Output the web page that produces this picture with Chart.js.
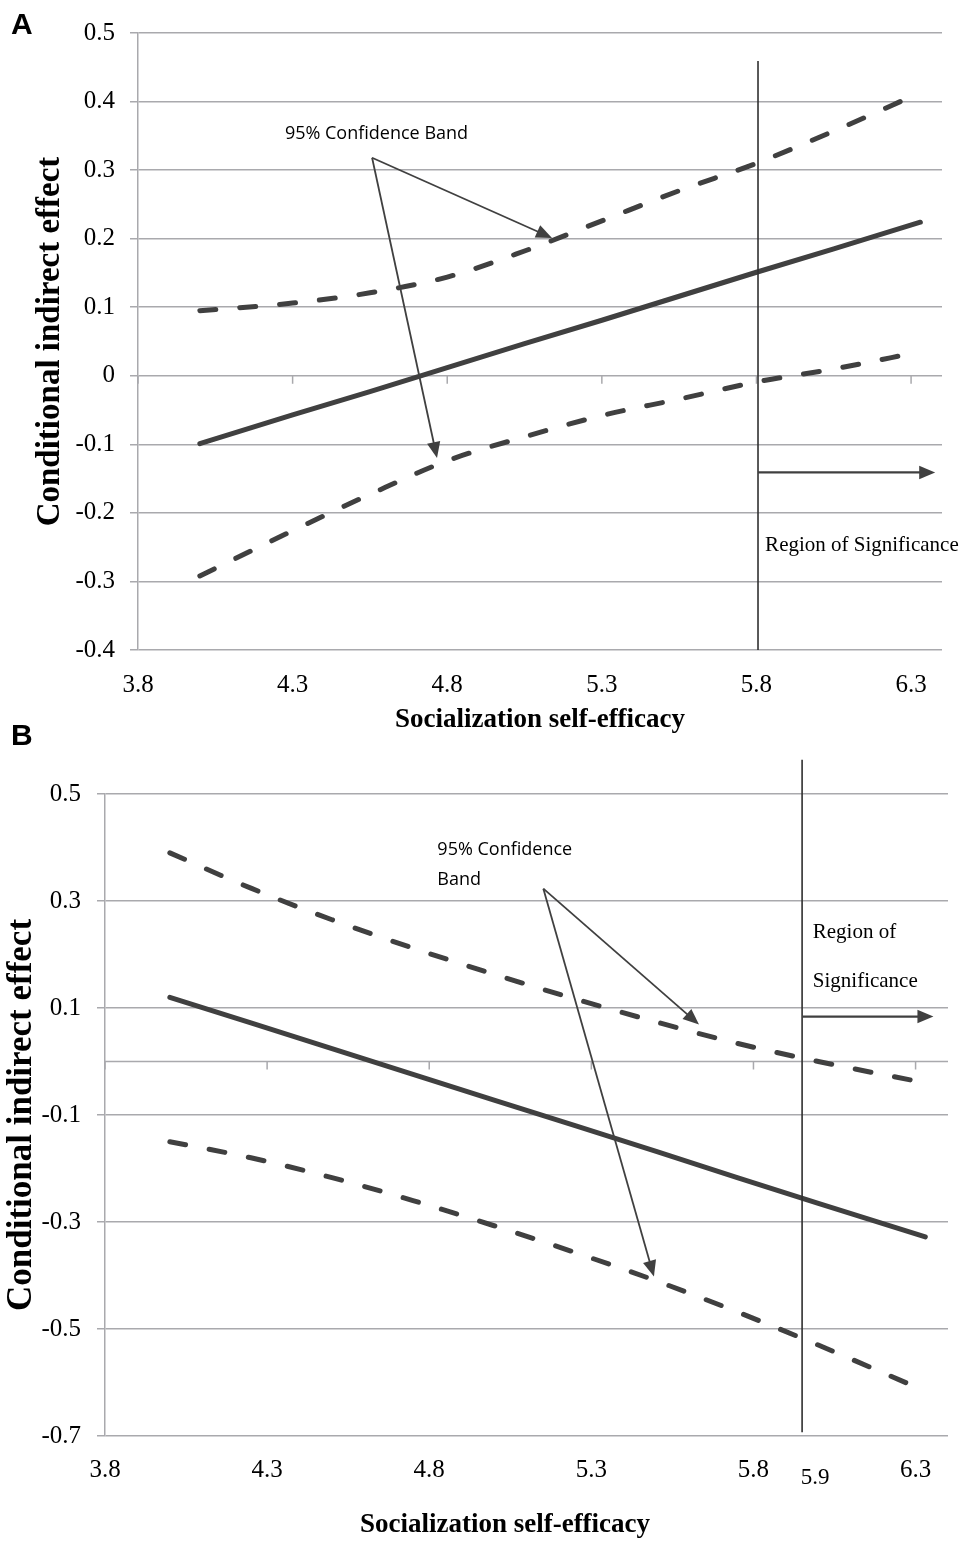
<!DOCTYPE html>
<html lang="en">
<head>
<meta charset="UTF-8">
<title>Conditional indirect effect</title>
<script src="https://cdn.jsdelivr.net/npm/chart.js"></script>
<style>
  body { margin: 0; background: #fff; }
  #wrap { position: relative; width: 963px; height: 1541px; overflow: hidden; }
  canvas { position: absolute; left: 0; }
  #chartA { top: 0; }
  #chartB { top: 740px; }
  .tag { position: absolute; left: 11px; font: bold 30px "Liberation Sans", Arial, sans-serif; line-height: 30px; color: #000; }
</style>
</head>
<body>
<div id="wrap">
  <canvas id="chartA" width="963" height="740"></canvas>
  <canvas id="chartB" width="963" height="801"></canvas>
  <div class="tag" style="top:9px">A</div>
  <div class="tag" style="top:720px">B</div>
</div>
<script>
// Panel A data
const xA = [4.0, 4.3, 4.55, 4.8, 5.05, 5.3, 5.55, 5.8, 6.05, 6.33];
const effectA = [-0.099, -0.057, -0.023, 0.012, 0.047, 0.081, 0.116, 0.151, 0.185, 0.224];
const upperA = [0.095, 0.106, 0.121, 0.144, 0.182, 0.226, 0.270, 0.310, 0.357, 0.413];
const lowerA = [-0.292, -0.226, -0.173, -0.124, -0.089, -0.058, -0.034, -0.009, 0.010, 0.035];
const xTicksA = [3.8, 4.3, 4.8, 5.3, 5.8, 6.3];
const yTicksA = [-0.4, -0.3, -0.2, -0.1, 0, 0.1, 0.2, 0.3, 0.4, 0.5];

// Panel B data
const xB = [4.0, 4.25, 4.5, 4.75, 5.0, 5.25, 5.5, 5.75, 6.0, 6.33];
const effectB = [0.120, 0.072, 0.024, -0.024, -0.072, -0.120, -0.168, -0.217, -0.265, -0.328];
const upperB = [0.390, 0.324, 0.265, 0.212, 0.163, 0.117, 0.074, 0.034, 0.000, -0.040];
const lowerB = [-0.150, -0.180, -0.217, -0.260, -0.307, -0.357, -0.410, -0.468, -0.530, -0.616];
const xTicksB = [3.8, 4.3, 4.8, 5.3, 5.8, 6.3];
const yTicksB = [-0.7, -0.5, -0.3, -0.1, 0.1, 0.3, 0.5];

const serif = '"Liberation Serif", "Times New Roman", serif';
const sans = '"Open Sans", "Noto Sans", sans-serif';
const ink = '#404040';
const gridGray = '#a9a9ad';

const fmt = v => String(Math.round(v * 10) / 10);
const pts = (xs, ys) => xs.map((x, i) => ({ x: x, y: ys[i] }));

function series(xs, ys, dashed) {
  return {
    data: pts(xs, ys),
    borderColor: ink,
    borderWidth: 5,
    borderDash: dashed ? [16, 24] : [],
    borderCapStyle: 'round',
    pointRadius: 0,
    tension: dashed ? 0.4 : 0,
    cubicInterpolationMode: dashed ? 'monotone' : 'default',
    fill: false
  };
}

function arrow(ctx, x1, y1, x2, y2, head) {
  const ang = Math.atan2(y2 - y1, x2 - x1);
  ctx.beginPath();
  ctx.moveTo(x1, y1);
  ctx.lineTo(x2 - Math.cos(ang) * head * 0.8, y2 - Math.sin(ang) * head * 0.8);
  ctx.stroke();
  ctx.beginPath();
  ctx.moveTo(x2, y2);
  ctx.lineTo(x2 - head * Math.cos(ang) + head * 0.42 * Math.sin(ang), y2 - head * Math.sin(ang) - head * 0.42 * Math.cos(ang));
  ctx.lineTo(x2 - head * Math.cos(ang) - head * 0.42 * Math.sin(ang), y2 - head * Math.sin(ang) + head * 0.42 * Math.cos(ang));
  ctx.closePath();
  ctx.fill();
}

// draws zero axis, its tick marks and the annotations
function makeOverlay(cfg) {
  return {
    id: 'overlay',
    beforeDatasetsDraw(chart) {
      const { ctx, chartArea: a, scales: { x, y } } = chart;
      const y0 = y.getPixelForValue(0);
      ctx.save();
      ctx.strokeStyle = gridGray;
      ctx.lineWidth = 1.5;
      if (cfg.zeroLine) {
        ctx.beginPath(); ctx.moveTo(a.left, y0); ctx.lineTo(a.right, y0); ctx.stroke();
      }
      cfg.xTicks.forEach(v => {
        const px = x.getPixelForValue(v);
        ctx.beginPath(); ctx.moveTo(px, y0); ctx.lineTo(px, y0 + 8); ctx.stroke();
      });
      ctx.restore();
    },
    afterDatasetsDraw(chart) {
      const { ctx, scales: { x, y } } = chart;
      const X = v => x.getPixelForValue(v);
      const Y = v => y.getPixelForValue(v);
      ctx.save();
      // cut-off line
      ctx.strokeStyle = '#303030';
      ctx.lineWidth = 1.6;
      ctx.beginPath();
      ctx.moveTo(X(cfg.cut), Y(cfg.cutTop));
      ctx.lineTo(X(cfg.cut), Y(cfg.cutBottom));
      ctx.stroke();
      // arrows
      ctx.strokeStyle = ink;
      ctx.fillStyle = ink;
      ctx.lineWidth = 1.8;
      cfg.arrows.forEach(r => arrow(ctx, X(r[0]), Y(r[1]), X(r[2]), Y(r[3]), 16));
      ctx.lineWidth = 2.2;
      arrow(ctx, X(cfg.region[0]), Y(cfg.region[2]), X(cfg.region[1]), Y(cfg.region[2]), 16);
      // texts
      ctx.fillStyle = '#000';
      ctx.textBaseline = 'middle';
      cfg.texts.forEach(t => {
        ctx.font = t.font;
        ctx.textAlign = t.align || 'left';
        const px = t.px !== undefined ? t.px : X(t.x);
        const py = t.py !== undefined ? t.py : Y(t.y);
        ctx.fillText(t.text, px, py);
      });
      ctx.restore();
    }
  };
}

function makeChart(id, p) {
  return new Chart(document.getElementById(id), {
    type: 'line',
    data: {
      datasets: [
        series(p.xs, p.upper, true),
        series(p.xs, p.effect, false),
        series(p.xs, p.lower, true)
      ]
    },
    plugins: [makeOverlay(p.overlay)],
    options: {
      responsive: false,
      animation: false,
      layout: { padding: p.padding },
      plugins: { legend: { display: false }, tooltip: { enabled: false } },
      scales: {
        x: {
          type: 'linear',
          min: 3.8,
          max: 6.4,
          afterBuildTicks: s => { s.ticks = p.xTicks.map(v => ({ value: v })); },
          afterFit: s => { s.height = p.xHeight; },
          grid: { display: false, drawTicks: false },
          border: { display: false },
          ticks: {
            font: { family: serif, size: 25 },
            color: '#000',
            padding: p.xPad,
            maxRotation: 0,
            autoSkip: false,
            callback: v => fmt(v)
          },
          title: p.xTitle ? {
            display: true,
            text: 'Socialization self-efficacy',
            color: '#000',
            font: { family: serif, size: 27, weight: 'bold' },
            padding: { top: 0, bottom: p.xTitlePad }
          } : { display: false }
        },
        y: {
          type: 'linear',
          min: p.yMin,
          max: 0.5,
          afterBuildTicks: s => { s.ticks = p.yTicks.map(v => ({ value: v })); },
          afterFit: s => { s.width = p.yWidth; },
          grid: { color: gridGray, lineWidth: 1.5, drawTicks: true, tickLength: 8 },
          border: { display: true, color: gridGray, width: 1.5 },
          ticks: {
            font: { family: serif, size: 25 },
            color: '#000',
            padding: p.yPad,
            callback: v => fmt(v)
          },
          title: {
            display: true,
            text: 'Conditional indirect effect',
            color: '#000',
            font: { family: serif, size: p.yTitleSize, weight: 'bold' },
            padding: { top: p.yTitlePad, bottom: 0 }
          }
        }
      }
    }
  });
}

makeChart('chartA', {
  xs: xA, effect: effectA, upper: upperA, lower: lowerA,
  xTicks: xTicksA, yTicks: yTicksA, yMin: -0.4,
  padding: { top: 33, right: 21, left: 0, bottom: 0 },
  xHeight: 90, yWidth: 138, xPad: 20, yPad: 15,
  xTitle: true, xTitlePad: 4, yTitleSize: 33, yTitlePad: 31,
  overlay: {
    zeroLine: false,
    xTicks: xTicksA,
    cut: 5.805, cutTop: 0.459, cutBottom: -0.4,
    arrows: [[4.557, 0.318, 5.139, 0.201], [4.557, 0.318, 4.767, -0.12]],
    region: [5.805, 6.378, -0.141],
    texts: [
      { text: '95% Confidence Band', x: 4.275, y: 0.353, font: '18px ' + sans },
      { text: 'Region of Significance', x: 5.828, y: -0.248, font: '21px ' + serif }
    ]
  }
});

makeChart('chartB', {
  xs: xB, effect: effectB, upper: upperB, lower: lowerB,
  xTicks: xTicksB, yTicks: yTicksB, yMin: -0.7,
  padding: { top: 54, right: 15, left: 0, bottom: 0 },
  xHeight: 105, yWidth: 105, xPad: 19, yPad: 16,
  xTitle: false, yTitleSize: 35, yTitlePad: 1,
  overlay: {
    zeroLine: true,
    xTicks: xTicksB,
    cut: 5.95, cutTop: 0.564, cutBottom: -0.693,
    arrows: [[5.152, 0.323, 5.632, 0.069], [5.152, 0.323, 5.493, -0.402]],
    region: [5.95, 6.355, 0.084],
    texts: [
      { text: '95% Confidence', x: 4.825, y: 0.396, font: '18px ' + sans },
      { text: 'Band', x: 4.825, y: 0.340, font: '18px ' + sans },
      { text: 'Region of', x: 5.983, y: 0.241, font: '21px ' + serif },
      { text: 'Significance', x: 5.983, y: 0.150, font: '21px ' + serif },
      { text: '5.9', px: 815, py: 738, font: '23px ' + serif, align: 'center' },
      { text: 'Socialization self-efficacy', px: 505, py: 785, font: 'bold 27px ' + serif, align: 'center' }
    ]
  }
});
</script>
</body>
</html>
